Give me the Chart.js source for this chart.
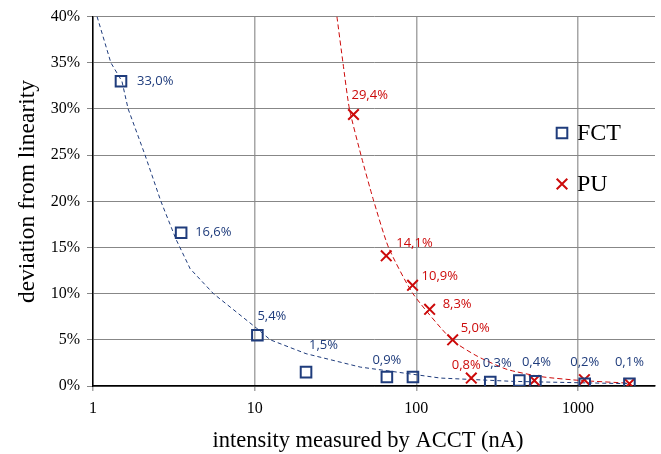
<!DOCTYPE html>
<html>
<head>
<meta charset="utf-8">
<script src="https://cdn.jsdelivr.net/npm/chart.js@4.4.1/dist/chart.umd.min.js"></script>
<style>
    html, body { margin: 0; padding: 0; background: #fff; }
    #wrap { position: relative; width: 661px; height: 454px; }
</style>
</head>
<body>
<div id="wrap"><canvas id="chart"></canvas></div>
<script>
// ── Data ──────────────────────────────────────────────────────────────────────
// FCT, squares
const fctX = [1.49, 3.51, 10.4, 20.8, 65.8, 95.4, 287, 434, 546, 1102, 2084];
const fctY = [33.0, 16.6, 5.5, 1.5, 0.97, 0.97, 0.43, 0.6, 0.5, 0.25, 0.25];
const fctLabels = ['33,0%', '16,6%', '5,4%', '1,5%', '0,9%', '', '0,3%', '', '0,4%', '0,2%', '0,1%'];

// PU, crosses
const puX = [40.9, 65.2, 94.9, 121, 168, 219, 538, 1097, 2084];
const puY = [29.4, 14.1, 10.9, 8.3, 5.0, 0.86, 0.6, 0.68, 0.25];
const puLabels = ['29,4%', '14,1%', '10,9%', '8,3%', '5,0%', '0,8%', '', '', ''];

// dashed trend curves
const fctTrendX = [1.06, 1.29, 1.51, 1.65, 2.1, 2.63, 3.27, 3.99, 5.56, 10.3, 12.5, 20.8, 45, 141, 400, 1036, 2100];
const fctTrendY = [40, 35, 33, 30, 25, 20, 15.85, 12.7, 10, 6.25, 5, 3.5, 2.05, 0.86, 0.5, 0.35, 0.25];
const puTrendX = [32.3, 35.2, 38.6, 45.5, 54, 67.4, 95.4, 166, 240, 364, 600, 1036, 2100];
const puTrendY = [40, 35, 30, 25, 20.3, 15, 10, 5, 3.2, 1.8, 1.0, 0.6, 0.3];

const xTicks = [1, 10, 100, 1000];
const yTicks = [0, 5, 10, 15, 20, 25, 30, 35, 40];

const seriesNames = ['FCT', 'PU'];
const xTitle = 'intensity measured by ACCT (nA)';
const yTitle = 'deviation from linearity';

// ── Styling ───────────────────────────────────────────────────────────────────
const BLUE = '#1f3c7c';
const RED = '#cc0a0a';
const SERIF = '"Liberation Serif", "Times New Roman", serif';
const SANS = '"Open Sans", "Noto Sans", sans-serif';

// label offsets from the marker centre [dx, dy, align]
const fctLabelPos = [[16, 0, 'left'], [14, 0, 'left'], [0, -19, 'left'], [3, -27, 'left'], [0, -17, 'center'], null,
    [7, -19, 'center'], null, [1, -19, 'center'], [0, -21, 'center'], [0, -21, 'center']];
const puLabelPos = [[-2, -19, 'left'], [10, -12, 'left'], [9, -9, 'left'], [13, -5, 'left'], [8, -12, 'left'], [-5, -13, 'center'],
    null, null, null];

function pts(xs, ys) { return xs.map((x, i) => ({ x: x, y: ys[i] })); }

const pointLabels = {
    id: 'pointLabels',
    afterDatasetsDraw(chart) {
        const ctx = chart.ctx;
        chart.data.datasets.forEach((ds, di) => {
            if (!ds.pointText) return;
            const meta = chart.getDatasetMeta(di);
            ctx.save();
            ctx.font = '13px ' + SANS;
            ctx.fillStyle = ds.borderColor;
            ctx.textBaseline = 'middle';
            meta.data.forEach((el, i) => {
                const p = ds.pointPos[i];
                if (!p || !ds.pointText[i]) return;
                ctx.textAlign = p[2];
                ctx.fillText(ds.pointText[i], el.x + p[0], el.y + p[1]);
            });
            ctx.restore();
        });
    }
};

// legend inside the plot + axis titles (the originals sit off-centre)
const extras = {
    id: 'extras',
    afterDraw(chart) {
        const ctx = chart.ctx;
        const items = [
            { ds: chart.data.datasets[0], y: 133 },
            { ds: chart.data.datasets[1], y: 184 },
        ];
        ctx.save();
        items.forEach(it => {
            ctx.strokeStyle = it.ds.borderColor;
            ctx.fillStyle = 'rgba(0,0,0,0)';
            ctx.lineWidth = 2;
            Chart.helpers.drawPoint(ctx, { pointStyle: it.ds.pointStyle, radius: 7.5, rotation: 0, borderWidth: 2 }, 562, it.y);
            ctx.fillStyle = '#000';
            ctx.font = '24px ' + SERIF;
            ctx.textAlign = 'left';
            ctx.textBaseline = 'middle';
            ctx.fillText(it.ds.label, 577, it.y + 1);
        });

        ctx.fillStyle = '#000';
        ctx.textAlign = 'center';
        ctx.textBaseline = 'alphabetic';
        ctx.font = '22.5px ' + SERIF;
        ctx.fillText(xTitle, 368, 447);

        ctx.translate(34, 191.5);
        ctx.rotate(-Math.PI / 2);
        ctx.font = '23.5px ' + SERIF;
        ctx.fillText(yTitle, 0, 0);
        ctx.restore();
    }
};

new Chart(document.getElementById('chart'), {
    type: 'scatter',
    data: {
        datasets: [
            {
                label: seriesNames[0], data: pts(fctX, fctY), pointText: fctLabels, pointPos: fctLabelPos,
                pointStyle: 'rect', pointRadius: 7.5, borderWidth: 2, borderColor: BLUE, backgroundColor: 'rgba(0,0,0,0)',
            },
            {
                label: seriesNames[1], data: pts(puX, puY), pointText: puLabels, pointPos: puLabelPos,
                pointStyle: 'crossRot', pointRadius: 7.5, borderWidth: 2, borderColor: RED, backgroundColor: RED,
            },
            {
                label: 'fct trend', data: pts(fctTrendX, fctTrendY), showLine: true, pointRadius: 0,
                borderColor: BLUE, borderWidth: 1, borderDash: [4, 3], tension: 0,
            },
            {
                label: 'pu trend', data: pts(puTrendX, puTrendY), showLine: true, pointRadius: 0,
                borderColor: RED, borderWidth: 1, borderDash: [5, 3], tension: 0.2,
            },
        ],
    },
    options: {
        responsive: true,
        maintainAspectRatio: false,
        animation: false,
        layout: { autoPadding: false, padding: { top: 15, right: 6, left: 0, bottom: 0 } },
        plugins: { legend: { display: false }, tooltip: { enabled: false } },
        scales: {
            x: {
                type: 'logarithmic', min: 1, max: 3000,
                afterBuildTicks: s => { s.ticks = xTicks.map(v => ({ value: v })); },
                afterFit: s => { s.height = 68; },
                ticks: { callback: v => String(v), color: '#000', font: { family: SERIF, size: 16 }, padding: 8, maxRotation: 0, autoSkip: false },
                grid: { color: '#a6a6a6', lineWidth: 1.5, tickLength: 5 },
                border: { color: '#000', width: 1.5 },
            },
            y: {
                min: 0, max: 40,
                afterBuildTicks: s => { s.ticks = yTicks.map(v => ({ value: v })); },
                afterFit: s => { s.width = 93; },
                ticks: { callback: v => v + '%', color: '#000', font: { family: SERIF, size: 16 }, padding: 7 },
                grid: { color: '#878787', lineWidth: 1, tickLength: 6 },
                border: { color: '#000', width: 1.5 },
            },
        },
    },
    plugins: [pointLabels, extras],
});
</script>
</body>
</html>
